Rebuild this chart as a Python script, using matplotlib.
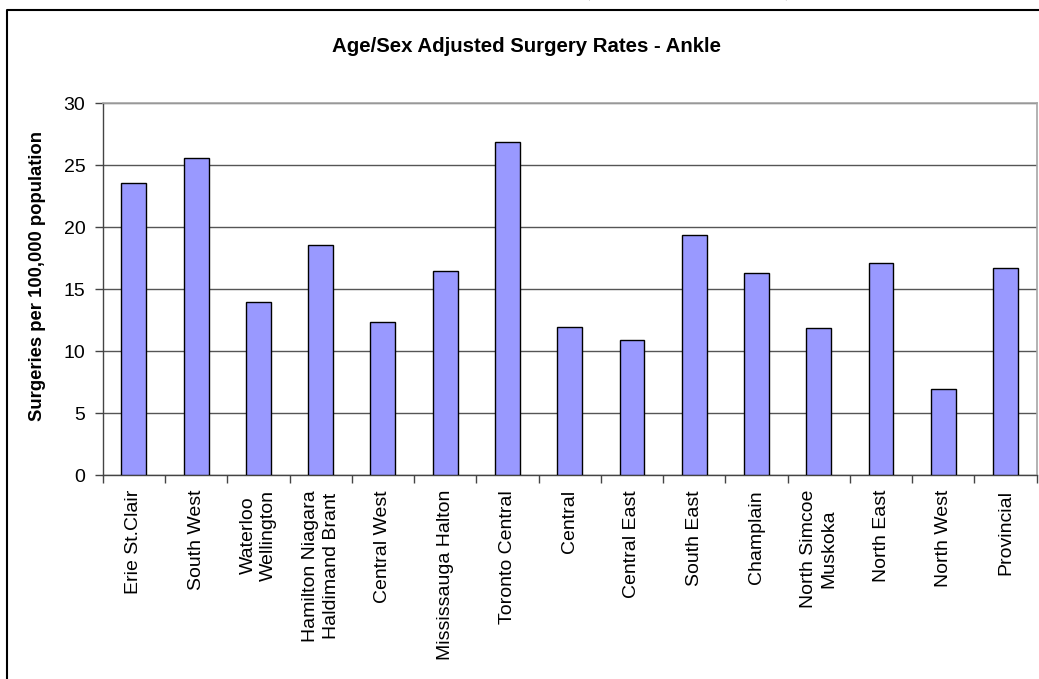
import matplotlib
matplotlib.use("Agg")
import matplotlib.pyplot as plt
from matplotlib.lines import Line2D
import numpy as np

categories = ["Erie St.Clair", "South West", "Waterloo\nWellington",
              "Hamilton Niagara\nHaldimand Brant", "Central West",
              "Mississauga Halton", "Toronto Central", "Central", "Central East",
              "South East", "Champlain", "North Simcoe\nMuskoka", "North East",
              "North West", "Provincial"]
rates = [23.6, 25.6, 14.0, 18.6, 12.4, 16.5, 26.9, 12.0, 10.9, 19.4, 16.3,
         11.9, 17.1, 7.0, 16.7]
y_ticks = [0, 5, 10, 15, 20, 25, 30]

title = "Age/Sex Adjusted Surgery Rates - Ankle"
ylabel = "Surgeries per 100,000 population"
caption = "Figure 13: Age/Sex Adjusted Surgery Rates for Ankle, (per 100,000 adults)"

plt.rcParams['font.family'] = ['Liberation Sans', 'DejaVu Sans']

W, H = 1039, 679
fig = plt.figure(figsize=(W / 100, H / 100), dpi=100)
fig.patch.set_facecolor("white")

left, right, top, bottom = 102.7, 1036.7, 103.3, 475.3
ax = fig.add_axes([left / W, 1 - bottom / H, (right - left) / W, (bottom - top) / H])

x = np.arange(len(categories))
ax.bar(x, rates, width=0.4, color="#9999FF", edgecolor="black", linewidth=1.0, zorder=3)

ax.set_xlim(-0.5, len(categories) - 0.5)
ax.set_ylim(0, 30)
ax.set_yticks(y_ticks)
ax.set_yticklabels([str(v) for v in y_ticks], fontsize=14)
ax.yaxis.grid(True, color="#555555", linewidth=1.0, zorder=0)
ax.set_axisbelow(True)

ax.set_xticks(x)
ax.set_xticklabels(categories, rotation=90, fontsize=14, ha="center", va="top",
                   multialignment="center", linespacing=1.3)
ax.tick_params(axis="x", which="major", length=0, pad=10.5)
ax.set_xticks(np.arange(-0.5, len(categories)), minor=True)
ax.tick_params(axis="x", which="minor", length=5.5, width=1, color="#444444",
               direction="out")
ax.tick_params(axis="y", length=5.5, width=1, color="#444444", pad=7, direction="out")

for s in ["left", "bottom"]:
    ax.spines[s].set_color("#444444")
    ax.spines[s].set_linewidth(1.0)
for s in ["top", "right"]:
    ax.spines[s].set_color("#a6a6a6")
    ax.spines[s].set_linewidth(1.2)

fig.text(526 / W, 1 - 46 / H, title, ha="center", va="center", fontsize=14.7,
         fontweight="bold")
fig.text(38 / W, 1 - 276 / H, ylabel, ha="center", va="center", rotation=90,
         fontsize=13.3, fontweight="bold")

# outer chart frame (partially visible)
fx = 7 / W
fy = 1 - 9.5 / H
fig.add_artist(Line2D([fx, fx, 1.01], [-0.01, fy, fy], transform=fig.transFigure,
                      color="black", linewidth=1.5))

# caption line above, cut off by the image edge as in the reference
fig.text(2 / W, 1 + 5.5 / H, caption, ha="left", va="baseline", fontsize=18,
         fontweight="bold", family=["Liberation Serif", "DejaVu Serif"])

fig.savefig("out.png", dpi=100)
